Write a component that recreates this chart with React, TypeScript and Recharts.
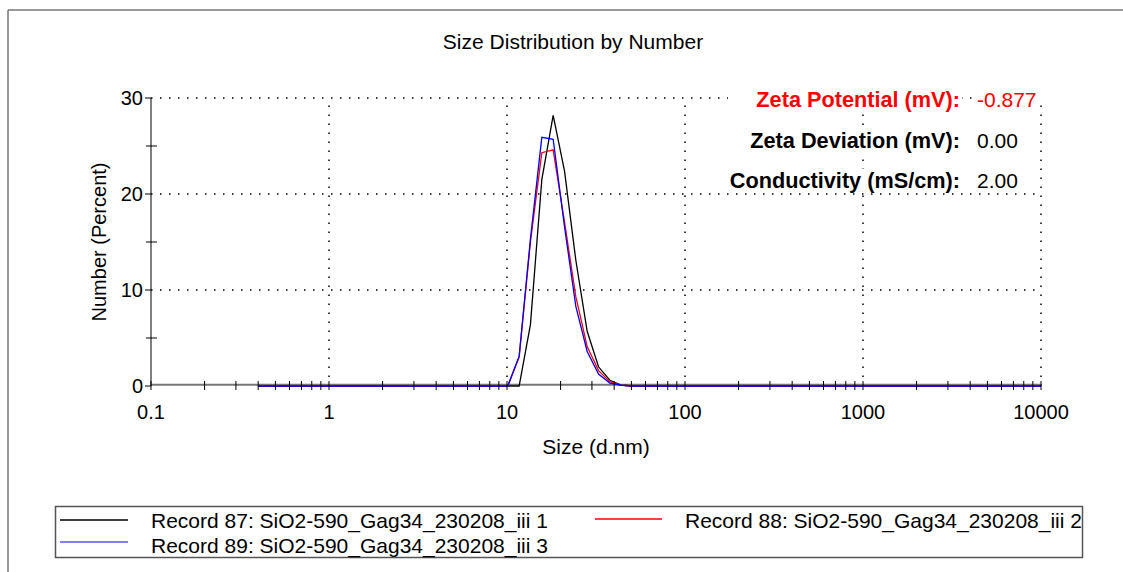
import React from 'react';
import { LineChart, Line, XAxis, YAxis, ReferenceLine } from 'recharts';

// Size bins (d.nm) — flat zero stretches are only kept by their end points
const sizes = [0.4, 10.1, 11.7, 13.54, 15.69, 18.17, 21.04, 24.36, 28.21, 32.67, 37.84, 43.82, 50.75, 10000];

// Number (%) per record
const record87 = [0, 0, 0, 6.4, 21.5, 28.2, 22.4, 13.1, 5.7, 2.0, 0.6, 0.1, 0, 0];
const record88 = [0, 0, 3.0, 15.0, 24.3, 24.6, 17.1, 9.3, 4.1, 1.6, 0.45, 0.1, 0, 0];
const record89 = [0, 0, 3.1, 15.3, 25.9, 25.7, 16.6, 8.3, 3.6, 1.25, 0.3, 0.08, 0, 0];

const seriesNames = [
  'Record 87: SiO2-590_Gag34_230208_iii 1',
  'Record 88: SiO2-590_Gag34_230208_iii 2',
  'Record 89: SiO2-590_Gag34_230208_iii 3',
];
const seriesColors = ['#000000', '#ff0000', '#0000ff'];

// Axis ticks
const xMajorTicks = [0.1, 1, 10, 100, 1000, 10000];
const xMinorTicks = [
  0.2, 0.3, 0.4, 0.5, 0.6, 0.7, 0.8, 0.9,
  2, 3, 4, 5, 6, 7, 8, 9,
  20, 30, 40, 50, 60, 70, 80, 90,
  200, 300, 400, 500, 600, 700, 800, 900,
  2000, 3000, 4000, 5000, 6000, 7000, 8000, 9000,
];
const yMajorTicks = [0, 10, 20, 30];
const yMinorTicks = [5, 15, 25];

const zetaRows = [
  { label: 'Zeta Potential (mV):', value: '-0.877', color: '#ff0000' },
  { label: 'Zeta Deviation (mV):', value: '0.00', color: '#000000' },
  { label: 'Conductivity (mS/cm):', value: '2.00', color: '#000000' },
];

const data = sizes.map((s, i) => ({
  size: s,
  r87: record87[i],
  r88: record88[i],
  r89: record89[i],
}));

const FONT = "'Liberation Sans', Arial, sans-serif";

const XTick = (props: any) => {
  const { x, y, payload } = props;
  const major = xMajorTicks.includes(payload.value);
  return (
    <g>
      <line x1={x} x2={x} y1={y - 5} y2={y + 4} stroke="#000" strokeWidth={1} />
      {major && (
        <text x={x} y={y + 33} textAnchor="middle" fontSize={20} fontFamily={FONT} fill="#000">
          {payload.value}
        </text>
      )}
    </g>
  );
};

const YTick = (props: any) => {
  const { x, y, payload } = props;
  const major = yMajorTicks.includes(payload.value);
  return (
    <g>
      {major ? (
        <line x1={x - 6} x2={x} y1={y} y2={y} stroke="#000" strokeWidth={1} />
      ) : (
        <line x1={x - 5} x2={x + 6} y1={y} y2={y} stroke="#000" strokeWidth={1} />
      )}
      {major && (
        <text x={x - 8} y={y + 7} textAnchor="end" fontSize={20} fontFamily={FONT} fill="#000">
          {payload.value}
        </text>
      )}
    </g>
  );
};

const gridStyle = { stroke: '#000', strokeWidth: 1.5, strokeDasharray: '1.5 7.5' };

export default function App() {
  return (
    <div style={{ position: 'absolute', left: 0, top: 0, width: 1123, height: 572, background: '#fff' }}>
      <LineChart
        width={1123}
        height={572}
        data={data}
        margin={{ top: 98, right: 82, bottom: 0, left: 0 }}
      >
        {[10, 20, 30].map((v) => (
          <ReferenceLine key={`h${v}`} y={v} {...gridStyle} ifOverflow="visible" />
        ))}
        {[1, 10, 100, 1000, 10000].map((v) => (
          <ReferenceLine key={`v${v}`} x={v} {...gridStyle} ifOverflow="visible" />
        ))}
        {/* grey baseline, sitting just above the zero level so the flat curves show under it */}
        <ReferenceLine y={0.13} stroke="#777" strokeWidth={2} ifOverflow="visible" />
        <XAxis
          dataKey="size"
          type="number"
          scale="log"
          domain={[0.1, 10000]}
          allowDataOverflow
          ticks={[...xMajorTicks, ...xMinorTicks]}
          interval={0}
          tickSize={0}
          tickMargin={0}
          tickLine={false}
          tick={<XTick />}
          axisLine={false}
          height={186}
        />
        <YAxis
          type="number"
          domain={[0, 30]}
          ticks={[...yMajorTicks, ...yMinorTicks]}
          interval={0}
          tickSize={0}
          tickMargin={0}
          tickLine={false}
          tick={<YTick />}
          axisLine={{ stroke: '#000', strokeWidth: 1 }}
          width={151}
        />
        <Line dataKey="r87" type="linear" stroke={seriesColors[0]} strokeWidth={1.3} dot={false} isAnimationActive={false} />
        <Line dataKey="r88" type="linear" stroke={seriesColors[1]} strokeWidth={1.3} dot={false} isAnimationActive={false} />
        <Line dataKey="r89" type="linear" stroke={seriesColors[2]} strokeWidth={1.3} dot={false} isAnimationActive={false} />
      </LineChart>

      <svg
        width={1123}
        height={572}
        style={{ position: 'absolute', left: 0, top: 0, pointerEvents: 'none' }}
        fontFamily={FONT}
      >
        {/* frame */}
        <line x1={8} x2={1123} y1={10} y2={10} stroke="#777" strokeWidth={1.5} />
        <line x1={8} x2={8} y1={10} y2={572} stroke="#777" strokeWidth={1.5} />

        <text x={573} y={49} textAnchor="middle" fontSize={21} fill="#000">
          Size Distribution by Number
        </text>
        <text x={596} y={454} textAnchor="middle" fontSize={21} fill="#000">
          Size (d.nm)
        </text>
        <text
          x={0}
          y={0}
          transform="translate(106,242) rotate(-90)"
          textAnchor="middle"
          fontSize={20}
          fill="#000"
        >
          Number (Percent)
        </text>

        {/* zeta info */}
        {zetaRows.map((r, i) => {
          const cy = 100 + i * 40.5;
          return (
            <g key={r.label}>
              <rect x={728} y={cy - 12} width={234} height={24} fill="#fff" />
              <rect x={973} y={cy - 12} width={66} height={24} fill="#fff" />
              <text x={960} y={cy + 7} textAnchor="end" fontSize={21.7} fontWeight="bold" fill={r.color}>
                {r.label}
              </text>
              <text x={977} y={cy + 7} fontSize={21} fill={r.color}>
                {r.value}
              </text>
            </g>
          );
        })}

        {/* legend */}
        <rect x={55.5} y={506.5} width={1027} height={51} fill="#fff" stroke="#555" strokeWidth={1.5} />
        <line x1={60} x2={128} y1={520} y2={520} stroke={seriesColors[0]} strokeWidth={1.3} />
        <text x={151} y={528} fontSize={21} fill="#000">{seriesNames[0]}</text>
        <line x1={595} x2={662} y1={519} y2={519} stroke={seriesColors[1]} strokeWidth={1.3} />
        <text x={685} y={528} fontSize={21} fill="#000">{seriesNames[1]}</text>
        <line x1={60} x2={128} y1={542} y2={542} stroke="#5555ff" strokeWidth={1.5} />
        <text x={151} y={553} fontSize={21} fill="#000">{seriesNames[2]}</text>
      </svg>
    </div>
  );
}
